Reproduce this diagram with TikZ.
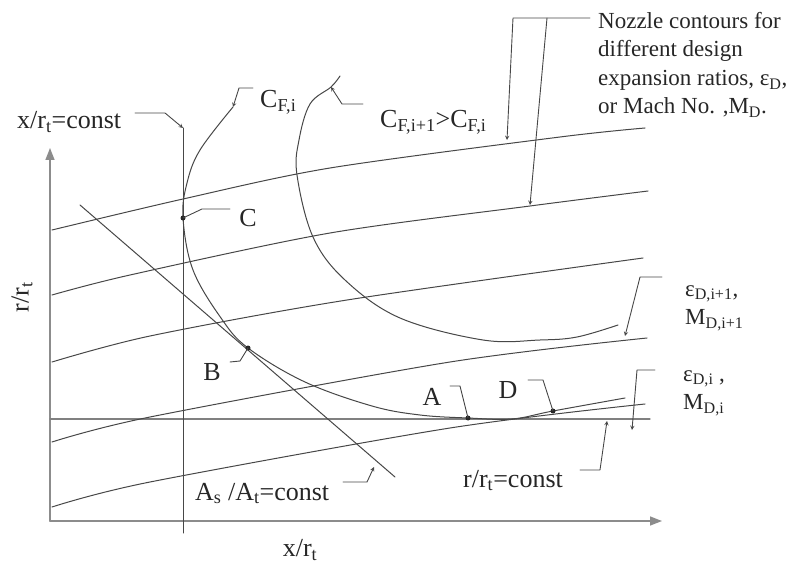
\documentclass[tikz,border=0pt]{standalone}
\usepackage{fontspec}
\setmainfont{Liberation Serif}
\usetikzlibrary{arrows.meta}

\begin{document}
\begin{tikzpicture}[x=1pt, y=-1pt, font=\fontsize{26}{30}\selectfont, line join=round, line cap=round, >=stealth,
contour/.style={black!72, line width=1pt},
leader/.style={black!72, line width=0.9pt},
axis/.style={black!45, line width=1.6pt, -{Triangle[length=12pt,width=9pt]}},
lbl/.style={text=black!85, inner sep=0pt},
smalltxt/.style={lbl, font=\fontsize{23}{28.5}\selectfont, align=left}]
\useasboundingbox (0,0) rectangle (795,569);
\path (50,521) coordinate (O)
(50,148) coordinate (Yend)
(662,521) coordinate (Xend)
(183,128) coordinate (Vtop)
(183,533) coordinate (Vbot)
(50,419) coordinate (Hl)
(650,419) coordinate (Hr)
(80,205) coordinate (S1)
(395,477) coordinate (S2)
(233,107) coordinate (Ftop)
(331,87) coordinate (Gtip)
(183,218) coordinate (C)
(248,348) coordinate (B)
(468,418) coordinate (A)
(553,411) coordinate (D);
% axes and the two constant lines
\draw[axis] (O)--(Yend);
\draw[axis] (O)--(Xend);
\draw[black!50, line width=1.3pt] (Hl)--(Hr);
\draw[contour] (Vtop)--(Vbot);
\draw[contour] (S1)--(S2);
% nozzle contours
\draw[contour] plot [smooth] coordinates {(52,230) (183,199) (330,168) (560,137) (645,128)};
\draw[contour] plot [smooth] coordinates {(52,295) (130,275) (330,233) (530,206) (648,191)};
\draw[contour] plot [smooth] coordinates {(52,362) (150,336) (347,300) (643,258)};
\draw[contour] plot [smooth] coordinates {(52,442) (150,417) (450,362) (647,338)};
\draw[contour] plot [smooth] coordinates {(52,507) (150,482) (450,428) (645,404)};
% thrust coefficient curves
\draw[contour] plot [smooth,tension=0.6] coordinates {(Ftop) (200,150) (187,183) (C) (193,270) (221,318) (B) (305,382) (372,406) (420,415) (A) (512,419) (D) (625,398)};
\draw[contour] plot [smooth,tension=0.6] coordinates {(340,76) (Gtip) (310,104) (299,140) (297,175) (313,237) (345,280) (400,318) (483,340) (540,340) (577,337) (618,325)};
\foreach \p in {C,B,A,D} \fill[black!85] (\p) circle (2.5pt);
% labels
\node[lbl, anchor=base west] (xrc) at (17,129) {x/r\textsubscript{t}=const};
\node[lbl, anchor=base west] (cfi) at (260,108) {C\textsubscript{F,i}};
\node[lbl, anchor=base west] (cfi1) at (380,128) {C\textsubscript{F,i+1}>C\textsubscript{F,i}};
\node[smalltxt, anchor=north west] (noz) at (598,12) {Nozzle contours for\\different design\\expansion ratios, ε\textsubscript{D},\\or Mach No. ,M\textsubscript{D}.};
\node[lbl] (lc) at (248,218) {C};
\node[lbl] (lb) at (212,372) {B};
\node[lbl] (la) at (432,397) {A};
\node[lbl] (ld) at (508,390) {D};
\node[smalltxt, anchor=north west] (eps1) at (685,285) {ε\textsubscript{D,i+1},\\M\textsubscript{D,i+1}};
\node[smalltxt, anchor=north west] (eps0) at (683,370) {ε\textsubscript{D,i} ,\\M\textsubscript{D,i}};
\node[lbl, anchor=base west] (rrc) at (463,487) {r/r\textsubscript{t}=const};
\node[lbl, anchor=base west] (asat) at (195,500) {A\textsubscript{s} /A\textsubscript{t}=const};
\node[lbl, rotate=90] (ylab) at (22,297) {r/r\textsubscript{t}};
\node[lbl] (xlab) at (300,550) {x/r\textsubscript{t}};
% leaders
\path (135,113) coordinate (xr1) (165,113) coordinate (xr2)
(253,88) coordinate (f1) (239,88) coordinate (f2)
(363,104) coordinate (g1) (342,104) coordinate (g2)
(590,18) coordinate (n1) (513,18) coordinate (n2) (547,18) coordinate (n3)
(507,140) coordinate (n4) (530,205) coordinate (n5)
(230,209) coordinate (c1) (202,209) coordinate (c2)
(230,362) coordinate (b1) (240,361) coordinate (b2)
(450,386) coordinate (a1) (460,386) coordinate (a2)
(528,380) coordinate (d1) (543,380) coordinate (d2)
(580,470) coordinate (r1) (600,470) coordinate (r2) (607,421) coordinate (r3)
(343,482) coordinate (s1) (367,482) coordinate (s2) (374,467) coordinate (s3)
(662,277) coordinate (e1) (640,277) coordinate (e2) (625,336) coordinate (e3)
(655,370) coordinate (e4) (637,370) coordinate (e5) (632,430) coordinate (e6);
\draw[leader,->] (xr1)--(xr2)--(Vtop);
\draw[leader,->] (f1)--(f2)--(Ftop);
\draw[leader,->] (g1)--(g2)--(Gtip);
\draw[leader,->] (n1)--(n2)--(n4);
\draw[leader,->] (n3)--(n5);
\draw[leader] (c1)--(c2)--(C);
\draw[leader] (b1)--(b2)--(B);
\draw[leader] (a1)--(a2)--(A);
\draw[leader] (d1)--(d2)--(D);
\draw[leader,->] (r1)--(r2)--(r3);
\draw[leader,->] (s1)--(s2)--(s3);
\draw[leader,->] (e1)--(e2)--(e3);
\draw[leader,->] (e4)--(e5)--(e6);
\end{tikzpicture}
\end{document}
